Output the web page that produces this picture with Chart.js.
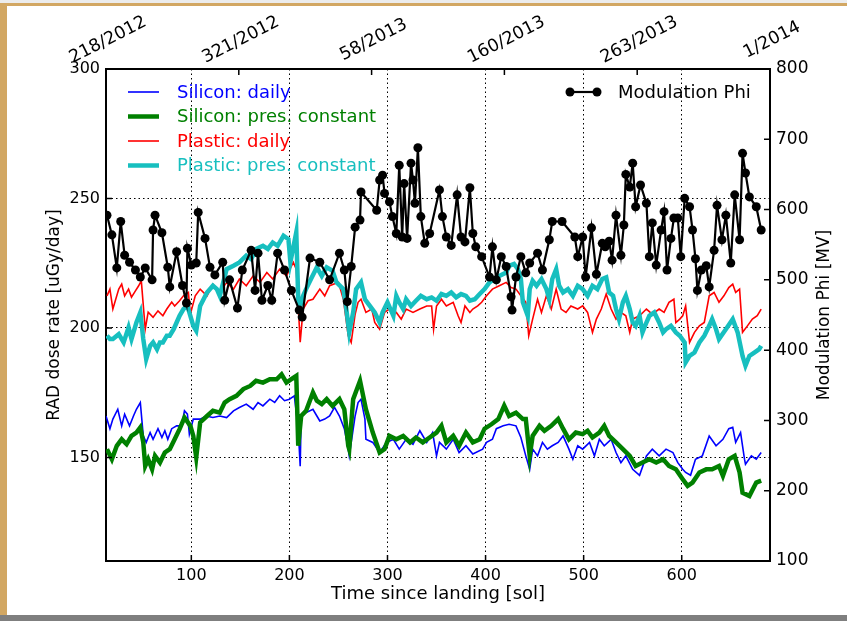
<!DOCTYPE html>
<html>
<head>
<meta charset="utf-8">
<script src="https://cdn.jsdelivr.net/npm/chart.js@4.4.0/dist/chart.umd.min.js"></script>
<style>
  html, body { margin: 0; padding: 0; background: #fff; }
  #wrap { position: relative; width: 847px; height: 621px; overflow: hidden; background: #fff; }
  .bar { position: absolute; }
  canvas { position: absolute; left: 0; top: 0; }
</style>
</head>
<body>
<div id="wrap">
  <div class="bar" style="left:0;top:0;width:847px;height:3px;background:#ececec"></div>
  <div class="bar" style="left:0;top:3px;width:847px;height:3px;background:#d2a763"></div>
  <div class="bar" style="left:0;top:3px;width:7px;height:618px;background:#d2a763"></div>
  <div class="bar" style="left:0;top:615px;width:847px;height:6px;background:#7f7f7f"></div>
  <canvas id="rad" width="847" height="621"></canvas>
</div>
<script>
// sol ticks on the bottom axis, dose ticks on the left, phi ticks on the right
const solTicks = [100, 200, 300, 400, 500, 600];
const doseTicks = [150, 200, 250, 300];
const phiTicks = [100, 200, 300, 400, 500, 600, 700, 800];
// Earth dates (day of year / year) along the top axis
const dateLabels = ['218/2012', '321/2012', '58/2013', '160/2013', '263/2013', '1/2014'];

// Silicon detector, daily values
const siliconDailySol = [13,17,20,25,29,32,37,41,44,48,51,54,58,61,66,70,73,76,80,85,90,93,96,98,102,109,115,122,129,136,143,149,156,163,168,173,180,185,190,195,200,205,209,211,212,217,224,228,231,236,241,246,251,256,260,261,267,270,273,277,278,285,292,299,306,312,319,326,333,340,346,350,353,360,367,373,380,387,397,401,407,411,418,424,431,436,441,445,448,453,458,463,468,474,479,485,489,494,499,506,511,516,521,528,533,538,543,550,557,564,570,577,584,591,596,601,604,609,614,621,628,635,642,648,652,655,660,664,665,671,676,681];
const siliconDaily = [166,161.1,164.8,168.6,162.2,166.7,162.2,166,168.6,171.2,158.3,155.8,159.6,157,161.1,157.7,160.3,157,161.1,162.2,162.2,168,166.7,159,164.8,164.8,166,165.4,166,165.4,168,169.3,170.6,168.6,171.2,169.9,172.5,171.2,173.8,171.9,172.5,173.8,161.1,146.6,166,167.3,168.6,166,164.1,164.8,166,169.3,166,161.1,153.2,150.6,166,171.2,172.5,164.8,157,155.8,151.9,155.8,157,153.2,157,155.1,160.3,155.8,159.6,150.6,155.8,153.2,157,151.9,154.5,151.3,153.2,155.8,157,161.1,162.2,162.8,162.2,157.7,150.6,145.4,153.2,150.6,155.8,153.2,154.5,155.8,158.3,153.2,149.3,154.5,153.2,155.8,150.6,157,154.5,157,151.9,148,150.6,145.4,143.1,150.6,153.2,150.6,153.2,151.9,148,145.4,144.2,143.1,149.3,150.6,158.3,154.5,157,161.1,161.6,155.8,159.6,149.3,147.4,150.6,149.3,151.9];

// Silicon detector, pressure corrected
const siliconPresSol = [14,19,24,29,34,39,44,48,51,53,56,60,63,68,73,78,83,88,93,99,102,105,109,116,122,129,134,139,146,153,160,166,173,180,187,192,197,202,207,209,212,217,224,228,233,238,244,251,256,260,261,265,272,278,285,292,297,302,309,316,323,329,336,343,350,355,360,367,373,380,387,394,399,406,413,419,424,431,438,441,445,448,455,460,467,474,479,485,492,499,504,509,516,521,526,533,540,547,553,560,567,574,581,587,594,601,606,611,618,625,631,638,642,648,654,659,662,669,676,681];
const siliconPres = [153.2,149.3,154.5,157,155.1,158.3,159.6,161.6,155.8,146.7,149.3,145.4,150.6,148,151.9,153.2,157,160.9,165.4,162.2,158.3,150,163.5,166,168,167.3,171.2,172.5,173.8,176.4,177.6,179.6,178.9,180.2,180.2,182.1,178.9,180.2,181.5,154.5,166,168,175.1,171.9,170.6,172.5,169.9,172.5,168.6,154.5,153.2,172.5,179.6,168.6,159.6,151.9,153.2,158.3,157,158.3,155.8,157.7,155.8,157.7,159.6,162.2,155.8,158.3,154.5,159.6,155.8,157,161.1,162.8,164.8,170,166,167.3,164.8,164.8,150.6,158.3,162.2,160.3,162.2,164.8,161.1,157,159.6,159,160.3,157.7,159.6,162.2,158.3,155.8,153.2,150.6,146.7,148,149.3,148,149.3,146.7,145.4,141.6,139,140.3,144.2,145.4,145.4,146.7,142.9,149.3,150.6,144.2,136.4,135.1,140.3,141];

// Plastic detector, daily values
const plasticDailySol = [14,17,20,26,29,32,36,39,43,46,49,53,56,61,66,71,75,80,83,88,92,97,99,104,109,116,122,129,136,143,149,156,163,170,177,183,190,197,204,207,211,214,219,224,231,236,241,250,255,260,263,267,270,273,278,284,287,292,297,302,309,314,319,326,333,340,345,347,350,355,360,367,372,375,379,384,387,392,396,401,407,414,421,426,431,436,441,444,448,453,457,462,467,472,477,482,487,494,499,504,509,513,518,523,528,533,538,543,547,550,557,564,570,577,582,587,592,594,598,601,604,608,613,618,623,628,633,638,643,648,652,655,659,662,667,672,677,681];
const plasticDaily = [212.4,215,207.3,215,216.9,212.4,215,211.9,214.3,216.1,218.2,199.5,206.1,204.1,206.6,204.7,207.3,210,208.5,210.5,212.4,213.7,205.3,212.4,215,212.4,216.9,213.7,217.6,215,218.9,216.3,220.1,217.6,221.4,218.9,222.7,220.1,225.3,222.7,194.5,207.3,210.5,211.1,215,212.4,216.3,217.6,211.1,197,194.4,205.3,209.9,211.1,206,207.3,202.1,199.5,206,207.3,206,203.4,207.3,206,207.3,208.5,208.5,199.5,208.5,211.1,208.5,209.9,204.7,202.1,208.5,206,207.3,208.5,209.9,212.4,215,216.3,217.6,215.6,215,212.4,209.9,197,203.4,211.1,206,212.4,207.3,215,207.3,206,208.5,207.3,208.5,206,198.3,203.4,207.3,213.1,207.3,203.4,206,204.7,198.3,203.4,204.7,207.3,205.3,207.3,206,209.9,211.1,202.1,203.4,204.7,208.5,194.4,198.3,200.8,202.1,212.4,213.7,209.9,212.4,215.6,216.9,213.7,215,198.3,200.8,203.4,204.7,207.3];

// Plastic detector, pressure corrected
const plasticPresSol = [14,17,20,26,31,36,39,44,48,51,54,58,61,65,68,71,75,78,82,85,88,92,96,102,105,109,116,122,126,129,136,143,149,156,161,166,173,178,183,188,194,199,201,207,209,211,214,217,222,228,233,238,244,248,255,258,261,265,268,273,277,282,287,292,295,300,306,309,312,316,319,324,329,334,340,345,350,355,360,365,370,375,380,384,389,394,399,404,409,414,421,424,429,433,436,438,443,445,448,452,457,462,465,468,472,475,479,484,489,494,499,504,509,514,519,523,526,530,533,536,540,543,547,550,553,557,560,564,567,572,577,581,584,589,594,598,603,604,608,613,618,623,628,631,635,638,645,652,657,662,665,669,674,679,681];
const plasticPres = [197,195.7,195.7,197.6,194.4,200.2,195.7,202.1,206,195.7,188,193.1,194.4,191.8,194.4,194.4,197,197,199.5,202.1,204.7,207.3,208.5,200.8,198.9,208.5,213.7,216.3,215,212.4,222.7,224,225.3,227.9,226.6,230.5,231.7,230.5,233,231.7,235.6,234.3,225.4,236.9,211.1,208.5,212.4,215,218.9,223.4,220.1,223.4,222.1,217.6,215,207.3,198.3,206,215,217.6,211.1,208.5,206,202.1,206,209.9,204.7,212.4,209.9,207.3,211.1,208.5,210.5,212.4,211.1,211.8,210.5,213.1,212.4,213.7,211.8,213.1,212.4,210.5,211.1,213.1,215,217.6,218.9,220.1,221.4,224,224.7,222.7,218.9,209.9,204.7,215,218.2,216.3,218.9,215,211.1,218.9,222.7,216.3,213.7,215,212.4,216.3,215,212.4,216.3,215,218.9,219.5,213.7,212.4,207.3,203.4,209.9,212.4,207.3,202.1,200.8,204.7,198.3,202.1,204.7,206,202.1,198.3,199.5,200.8,198.3,197,194.4,186.7,189.2,190.5,194.4,197,200.8,203.4,199.5,195.7,199.5,203.4,198.3,189.2,185.4,189.2,190.5,191.8,193.1];

// Heliospheric modulation potential
const phiSol = [14,19,24,28,32,37,43,48,53,60,61,63,70,76,78,85,91,95,96,100,105,107,114,119,124,132,134,139,147,152,161,165,168,172,178,182,188,195,202,210,213,221,231,241,251,256,259,263,267,272,273,289,292,295,297,302,305,309,312,315,317,320,324,326,328,331,334,338,343,353,356,360,365,371,375,379,384,387,390,396,404,407,411,416,421,426,427,431,436,441,445,453,458,465,468,478,491,494,499,502,508,513,519,522,526,529,533,538,541,543,547,550,553,558,564,567,570,574,579,582,585,589,592,596,599,603,608,611,614,616,620,625,628,633,636,641,645,650,654,659,662,665,669,676,681];
const phi = [592,564,517,583,535,525,514,504,517,500,571,592,567,518,490,540,492,467,545,521,524,596,559,518,507,525,471,500,460,514,542,485,538,471,492,471,538,514,485,457,447,531,525,500,538,514,469,519,575,585,625,599,642,649,623,611,590,566,663,561,637,559,666,642,609,688,590,552,566,628,590,561,549,621,561,554,631,566,547,533,504,547,500,533,519,476,457,504,533,510,524,538,514,557,583,583,561,533,561,504,574,508,552,547,555,528,592,535,578,650,632,666,604,635,609,533,581,521,571,597,514,559,588,588,533,616,604,571,530,485,514,520,490,542,606,557,592,524,621,557,680,652,618,604,571];

const pairs = (xs, ys) => xs.map((x, i) => ({x: x, y: ys[i]}));

const FONT = 'DejaVu Sans';
Chart.defaults.font.family = FONT;
Chart.defaults.color = '#000';

// ticks pointing into the plot, as on the original axes
const innerTicks = {
  id: 'innerTicks',
  afterDatasetsDraw(chart) {
    const {ctx, chartArea: a, scales} = chart;
    const len = 6;
    ctx.save();
    ctx.strokeStyle = '#000';
    ctx.lineWidth = 1.5;
    ctx.beginPath();
    scales.x.ticks.forEach(t => {
      const px = scales.x.getPixelForValue(t.value);
      ctx.moveTo(px, a.bottom); ctx.lineTo(px, a.bottom - len);
    });
    scales.x2.ticks.forEach(t => {
      const px = scales.x2.getPixelForValue(t.value);
      ctx.moveTo(px, a.top); ctx.lineTo(px, a.top + len);
    });
    scales.y.ticks.forEach(t => {
      const py = scales.y.getPixelForValue(t.value);
      ctx.moveTo(a.left, py); ctx.lineTo(a.left + len, py);
    });
    scales.y2.ticks.forEach(t => {
      const py = scales.y2.getPixelForValue(t.value);
      ctx.moveTo(a.right, py); ctx.lineTo(a.right - len, py);
    });
    ctx.stroke();
    ctx.restore();
  }
};

// rotated date labels on top, right-hand title and the two legend blocks
const extras = {
  id: 'extras',
  afterDraw(chart) {
    const {ctx, chartArea: a, scales} = chart;
    const ds = chart.data.datasets;
    ctx.save();

    ctx.fillStyle = '#000';
    ctx.font = '17.5px ' + FONT;
    ctx.textAlign = 'center';
    ctx.textBaseline = 'middle';
    scales.x2.ticks.forEach((t, i) => {
      const px = scales.x2.getPixelForValue(t.value);
      ctx.save();
      ctx.translate(px + 2, a.top - 29);
      ctx.rotate(-27 * Math.PI / 180);
      ctx.fillText(dateLabels[i], 0, 0);
      ctx.restore();
    });

    ctx.save();
    ctx.font = '17px ' + FONT;
    ctx.translate(825, (a.top + a.bottom) / 2);
    ctx.rotate(-Math.PI / 2);
    ctx.fillText('Modulation Phi [MV]', 0, 0);
    ctx.restore();

    ctx.textAlign = 'left';
    ctx.font = '18px ' + FONT;
    for (let i = 0; i < 4; i++) {
      const y = 92 + i * 24.5;
      ctx.strokeStyle = ds[i].borderColor;
      ctx.lineWidth = ds[i].borderWidth;
      ctx.beginPath();
      ctx.moveTo(128, y); ctx.lineTo(159, y);
      ctx.stroke();
      ctx.fillStyle = ds[i].borderColor;
      ctx.fillText(ds[i].label, 177, y + 1);
    }

    const p = ds[4];
    ctx.strokeStyle = p.borderColor;
    ctx.fillStyle = p.borderColor;
    ctx.lineWidth = p.borderWidth;
    ctx.beginPath();
    ctx.moveTo(570, 92); ctx.lineTo(597, 92);
    ctx.stroke();
    [570, 597].forEach(x => {
      ctx.beginPath(); ctx.arc(x, 92, p.pointRadius, 0, Math.PI * 2); ctx.fill();
    });
    ctx.fillText(p.label, 618, 93);
    ctx.restore();
  }
};

new Chart(document.getElementById('rad'), {
  type: 'line',
  data: {
    datasets: [
      { label: 'Silicon: daily', data: pairs(siliconDailySol, siliconDaily), yAxisID: 'y',
        borderColor: '#0000ff', borderWidth: 1.6, pointRadius: 0, order: 4 },
      { label: 'Silicon: pres. constant', data: pairs(siliconPresSol, siliconPres), yAxisID: 'y',
        borderColor: '#008000', borderWidth: 4.5, pointRadius: 0, order: 3 },
      { label: 'Plastic: daily', data: pairs(plasticDailySol, plasticDaily), yAxisID: 'y',
        borderColor: '#ff0000', borderWidth: 1.6, pointRadius: 0, order: 2 },
      { label: 'Plastic: pres. constant', data: pairs(plasticPresSol, plasticPres), yAxisID: 'y',
        borderColor: '#17bfbf', borderWidth: 4.5, pointRadius: 0, order: 1 },
      { label: 'Modulation Phi', data: pairs(phiSol, phi), yAxisID: 'y2',
        borderColor: '#000000', backgroundColor: '#000000', borderWidth: 2.2,
        pointRadius: 4.5, pointBackgroundColor: '#000000', pointBorderWidth: 0, order: 0 }
    ]
  },
  options: {
    responsive: false,
    animation: false,
    devicePixelRatio: 1,
    layout: { padding: 0 },
    plugins: { legend: { display: false }, tooltip: { enabled: false } },
    elements: { line: { tension: 0 } },
    scales: {
      x: {
        type: 'linear', position: 'bottom', min: 13, max: 690,
        afterBuildTicks: s => { s.ticks = solTicks.map(v => ({value: v})); },
        afterFit: s => { s.height = 60; },
        ticks: { font: { size: 16 }, padding: 5, maxRotation: 0 },
        grid: { color: '#000', lineWidth: 1, drawTicks: false },
        border: { display: true, color: '#000', width: 2, dash: [1.5, 3] },
        title: { display: true, text: 'Time since landing [sol]', font: { size: 18 }, padding: { top: 0, bottom: 16 } }
      },
      x2: {
        type: 'linear', position: 'top', min: 0, max: 5,
        afterBuildTicks: s => { s.ticks = dateLabels.map((d, i) => ({value: i})); },
        afterFit: s => { s.height = 69; },
        ticks: { display: false },
        grid: { drawOnChartArea: false, drawTicks: false },
        border: { display: true, color: '#000', width: 2 }
      },
      y: {
        type: 'linear', position: 'left', min: 110, max: 300,
        afterBuildTicks: s => { s.ticks = doseTicks.map(v => ({value: v})); },
        afterFit: s => { s.width = 106; },
        ticks: { font: { size: 16 }, padding: 6 },
        grid: { color: '#000', lineWidth: 1, drawTicks: false },
        border: { display: true, color: '#000', width: 2, dash: [1.5, 3] },
        title: { display: true, text: 'RAD dose rate [uGy/day]', font: { size: 17 }, padding: { top: 44, bottom: 0 } }
      },
      y2: {
        type: 'linear', position: 'right', min: 100, max: 800,
        afterBuildTicks: s => { s.ticks = phiTicks.map(v => ({value: v})); },
        afterFit: s => { s.width = 77; },
        ticks: { font: { size: 17 }, padding: 6 },
        grid: { drawOnChartArea: false, drawTicks: false },
        border: { display: true, color: '#000', width: 2 }
      }
    }
  },
  plugins: [innerTicks, extras]
});
</script>
</body>
</html>
